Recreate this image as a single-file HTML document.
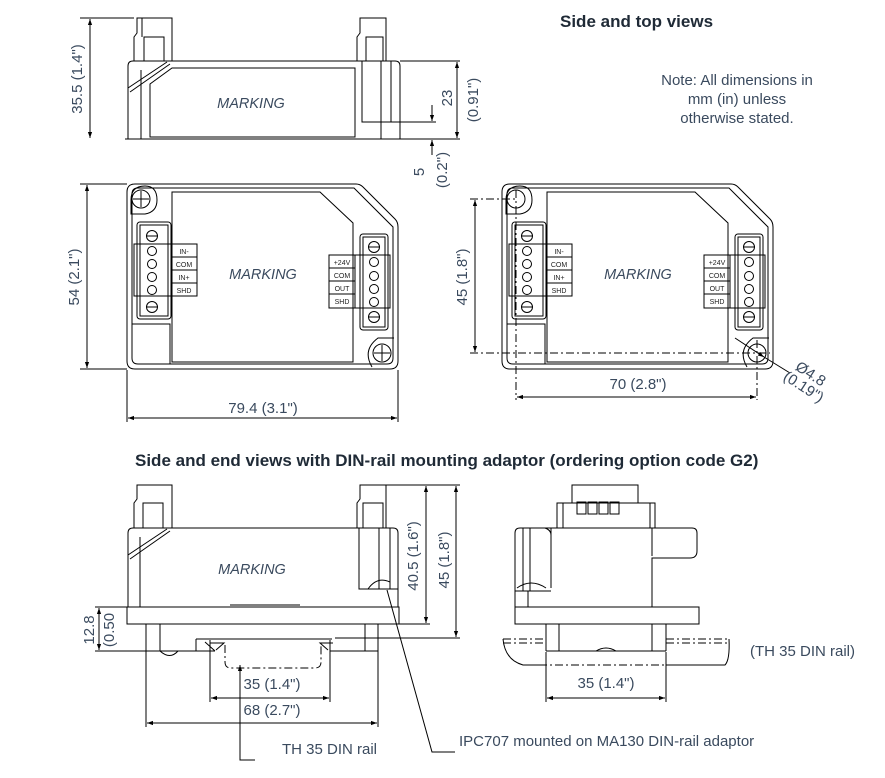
<!DOCTYPE html>
<html><head><style>
html,body{margin:0;padding:0;background:#fff;}
svg{display:block;}
text{font-family:"Liberation Sans",sans-serif;fill:#3a4a5e;}
.t{font-size:15px;}
.s{font-size:7px;fill:#222;}
.m{font-size:14.5px;font-style:italic;}
.b{font-size:17px;font-weight:bold;fill:#1f2a36;}
</style></head><body>
<svg width="885" height="778" viewBox="0 0 885 778" xmlns="http://www.w3.org/2000/svg">
<defs>
<marker id="a" viewBox="0 0 10 10" refX="10" refY="5" markerWidth="8" markerHeight="6" orient="auto-start-reverse"><path d="M0,1.5 L10,5 L0,8.5 z" fill="#000"/></marker>
</defs>
<g fill="none" stroke="#000" stroke-width="1">

<path d="M128,139 L128,66 Q128,61 133,61 L395,61 Q400,61 400,66 L400,139"/>
<line x1="141" y1="70" x2="141" y2="139"/>
<line x1="128" y1="88" x2="167" y2="62"/><line x1="130" y1="92" x2="170" y2="64"/>
<path d="M150,137 L150,84 L172,68 L355,68 L355,137 Z"/>
<path d="M134,61 L134,37 L137,33 L137,18 L172,18 L172,61"/>
<rect x="144" y="37" width="20" height="24"/>
<line x1="142" y1="18" x2="142" y2="37"/>
<path d="M357,61 L357,37 L360,33 L360,18 L386,18 L386,61"/>
<rect x="366" y="37" width="17" height="24"/>
<path d="M362,61 L362,122 L400,122"/><line x1="381" y1="61" x2="381" y2="139"/><line x1="391" y1="61" x2="391" y2="122"/>
<line x1="125" y1="139" x2="460" y2="139"/>
<line x1="80" y1="18" x2="134" y2="18"/>
<line x1="90" y1="19" x2="90" y2="138" marker-start="url(#a)" marker-end="url(#a)"/>
<line x1="400" y1="61" x2="460" y2="61"/>
<line x1="457" y1="62" x2="457" y2="138" marker-start="url(#a)" marker-end="url(#a)"/>
<line x1="400" y1="122" x2="436" y2="122"/>
<line x1="432" y1="105" x2="432" y2="121" marker-end="url(#a)"/>
<line x1="432" y1="155" x2="432" y2="140" marker-end="url(#a)"/>

<g>
<path d="M135,184 L356,184 Q360,184 363,187 L395,219 Q398,222 398,227 L398,361 Q398,369 390,369 L135,369 Q127,369 127,361 L127,192 Q127,184 135,184 Z"/>
<path d="M138,188 L354,188 L393,227 L393,358 Q393,364 387,364 L138,364 Q132,364 132,358 L132,194 Q132,188 138,188 Z"/>
<path d="M172,192 L320,192 L353,223 L353,362 L172,362 Z"/>
<path d="M131,214 L131,200 Q131,186 145,186 Q157,186 157,200 Q157,212 145,214 Z"/>
<circle cx="141" cy="199" r="9"/><line x1="133" y1="199" x2="149" y2="199"/><line x1="141" y1="191" x2="141" y2="207"/>
<path d="M372,367 Q362,350 378,338 L394,338"/>
<circle cx="382" cy="353" r="9"/><line x1="374" y1="353" x2="390" y2="353"/><line x1="382" y1="345" x2="382" y2="361"/>
<path d="M132,324 L170,324 L170,364"/>
<rect x="137" y="222" width="34" height="97" rx="3"/>
<rect x="140" y="225" width="28" height="91"/>
<rect x="134" y="244" width="38" height="52"/>
<circle cx="152" cy="236" r="5.5"/><line x1="147" y1="236" x2="157" y2="236"/>
<circle cx="152" cy="307" r="5.5"/><line x1="147" y1="307" x2="157" y2="307"/>
<circle cx="152" cy="251" r="4.5"/><circle cx="152" cy="264" r="4.5"/><circle cx="152" cy="277" r="4.5"/><circle cx="152" cy="290" r="4.5"/>
<rect x="172" y="244" width="25" height="13"/><rect x="172" y="257" width="25" height="13"/><rect x="172" y="270" width="25" height="13"/><rect x="172" y="283" width="25" height="13"/>
<rect x="360" y="234" width="28" height="96" rx="3"/>
<rect x="363" y="237" width="22" height="90"/>
<rect x="355" y="255" width="35" height="53"/>
<circle cx="374" cy="247" r="5.5"/><line x1="369" y1="247" x2="379" y2="247"/>
<circle cx="374" cy="317" r="5.5"/><line x1="369" y1="317" x2="379" y2="317"/>
<circle cx="374" cy="262" r="4.5"/><circle cx="374" cy="276" r="4.5"/><circle cx="374" cy="289" r="4.5"/><circle cx="374" cy="302" r="4.5"/>
<rect x="329" y="255" width="26" height="13"/><rect x="329" y="268" width="26" height="13"/><rect x="329" y="281" width="26" height="13"/><rect x="329" y="294" width="26" height="14"/>
</g>
<g transform="translate(375,0)">
<path d="M135,184 L356,184 Q360,184 363,187 L395,219 Q398,222 398,227 L398,361 Q398,369 390,369 L135,369 Q127,369 127,361 L127,192 Q127,184 135,184 Z"/>
<path d="M138,188 L354,188 L393,227 L393,358 Q393,364 387,364 L138,364 Q132,364 132,358 L132,194 Q132,188 138,188 Z"/>
<path d="M172,192 L320,192 L353,223 L353,362 L172,362 Z"/>
<path d="M131,214 L131,200 Q131,186 145,186 Q157,186 157,200 Q157,212 145,214 Z"/>
<circle cx="141" cy="199" r="9"/>
<path d="M372,367 Q362,350 378,338 L394,338"/>
<circle cx="382" cy="353" r="9"/>
<path d="M132,324 L170,324 L170,364"/>
<rect x="137" y="222" width="34" height="97" rx="3"/>
<rect x="140" y="225" width="28" height="91"/>
<rect x="134" y="244" width="38" height="52"/>
<circle cx="152" cy="236" r="5.5"/><line x1="147" y1="236" x2="157" y2="236"/>
<circle cx="152" cy="307" r="5.5"/><line x1="147" y1="307" x2="157" y2="307"/>
<circle cx="152" cy="251" r="4.5"/><circle cx="152" cy="264" r="4.5"/><circle cx="152" cy="277" r="4.5"/><circle cx="152" cy="290" r="4.5"/>
<rect x="172" y="244" width="25" height="13"/><rect x="172" y="257" width="25" height="13"/><rect x="172" y="270" width="25" height="13"/><rect x="172" y="283" width="25" height="13"/>
<rect x="360" y="234" width="28" height="96" rx="3"/>
<rect x="363" y="237" width="22" height="90"/>
<rect x="355" y="255" width="35" height="53"/>
<circle cx="374" cy="247" r="5.5"/><line x1="369" y1="247" x2="379" y2="247"/>
<circle cx="374" cy="317" r="5.5"/><line x1="369" y1="317" x2="379" y2="317"/>
<circle cx="374" cy="262" r="4.5"/><circle cx="374" cy="276" r="4.5"/><circle cx="374" cy="289" r="4.5"/><circle cx="374" cy="302" r="4.5"/>
<rect x="329" y="255" width="26" height="13"/><rect x="329" y="268" width="26" height="13"/><rect x="329" y="281" width="26" height="13"/><rect x="329" y="294" width="26" height="14"/>
</g>
<line x1="80" y1="184" x2="127" y2="184"/><line x1="80" y1="369" x2="127" y2="369"/>
<line x1="87" y1="185" x2="87" y2="368" marker-start="url(#a)" marker-end="url(#a)"/>
<line x1="127" y1="370" x2="127" y2="422"/><line x1="398" y1="370" x2="398" y2="422"/>
<line x1="128" y1="418" x2="397" y2="418" marker-start="url(#a)" marker-end="url(#a)"/>
<g stroke-dasharray="8,3,2,3"><line x1="470" y1="199" x2="516" y2="199"/><line x1="470" y1="353" x2="770" y2="353"/><line x1="516" y1="190" x2="516" y2="400"/><line x1="757" y1="340" x2="757" y2="400"/></g>
<line x1="475" y1="200" x2="475" y2="352" marker-start="url(#a)" marker-end="url(#a)"/>
<line x1="517" y1="397" x2="756" y2="397" marker-start="url(#a)" marker-end="url(#a)"/>
<line x1="735" y1="338" x2="764" y2="357" marker-end="url(#a)"/><line x1="764" y1="357" x2="790" y2="373"/>

<path d="M128,607 L128,533 Q128,528 133,528 L393,528 Q398,528 398,533 L398,607"/>
<line x1="140" y1="537" x2="140" y2="607"/>
<line x1="128" y1="555" x2="167" y2="529"/><line x1="130" y1="559" x2="170" y2="531"/>
<path d="M134,528 L134,503 L137,499 L137,485 L172,485 L172,528"/>
<rect x="143" y="503" width="20" height="25"/>
<path d="M357,528 L357,503 L360,499 L360,485 L386,485 L386,528"/>
<rect x="363" y="503" width="20" height="25"/>
<path d="M359,528 L359,589 L398,589"/><line x1="379" y1="528" x2="379" y2="589"/><line x1="390" y1="528" x2="390" y2="589"/>
<path d="M368,589 Q377,576 390,582"/>
<line x1="230" y1="605" x2="300" y2="605"/>
<rect x="127" y="607" width="272" height="17"/>
<line x1="146" y1="624" x2="146" y2="651"/><line x1="160" y1="624" x2="160" y2="651"/>
<line x1="365" y1="624" x2="365" y2="651"/><line x1="378" y1="624" x2="378" y2="651"/>
<line x1="196" y1="639" x2="332" y2="639"/>
<line x1="95" y1="651" x2="215" y2="651"/><line x1="330" y1="651" x2="378" y2="651"/>
<path d="M196,639 L196,651"/><path d="M205,642 L215,651"/>
<path d="M160,651 Q170,660 178,651"/>
<path d="M210,643 L224,643 L216,650"/><path d="M333,643 L320,643 L328,650"/>
<path d="M225,645 L225,662 Q225,668 231,668 L315,668 Q321,668 321,662 L321,645" stroke-dasharray="8,3,2,3"/>
<line x1="95" y1="607" x2="127" y2="607"/>
<line x1="99" y1="608" x2="99" y2="650" marker-start="url(#a)" marker-end="url(#a)"/>
<line x1="386" y1="485" x2="460" y2="485"/><line x1="399" y1="624" x2="430" y2="624"/><line x1="335" y1="638" x2="460" y2="638"/>
<line x1="426" y1="486" x2="426" y2="623" marker-start="url(#a)" marker-end="url(#a)"/>
<line x1="456" y1="486" x2="456" y2="637" marker-start="url(#a)" marker-end="url(#a)"/>
<line x1="210" y1="640" x2="210" y2="702"/><line x1="330" y1="640" x2="330" y2="702"/>
<line x1="211" y1="698" x2="329" y2="698" marker-start="url(#a)" marker-end="url(#a)"/>
<line x1="146" y1="651" x2="146" y2="727"/><line x1="378" y1="651" x2="378" y2="727"/>
<line x1="147" y1="723" x2="377" y2="723" marker-start="url(#a)" marker-end="url(#a)"/>
<polyline points="255,760 240,760 240,665" marker-end="url(#a)"/>
<polyline points="455,752 432,752 387,590"/>

<path d="M572,503 L572,485 L638,485 L638,503"/>
<rect x="557" y="503" width="98" height="25"/>
<line x1="563" y1="503" x2="563" y2="528"/><line x1="650" y1="503" x2="650" y2="528"/>
<rect x="577" y="502" width="9" height="12"/><rect x="588" y="502" width="9" height="12"/><rect x="599" y="502" width="9" height="12"/><rect x="610" y="502" width="9" height="12"/>
<path d="M515,607 L515,533 Q515,528 520,528 L692,528 Q697,528 697,533 L697,551 Q697,558 690,558 L652,558 L652,607"/>
<line x1="523" y1="528" x2="523" y2="591"/><line x1="530" y1="528" x2="530" y2="591"/><line x1="551" y1="528" x2="551" y2="588"/>
<path d="M545,528 Q551,530 551,535"/>
<path d="M652,528 L652,556"/><path d="M515,591 L551,591"/><path d="M517,588 Q531,578 546,588"/>
<line x1="528" y1="591" x2="528" y2="607"/>
<rect x="515" y="607" width="184" height="17"/>
<line x1="546" y1="624" x2="546" y2="651"/><line x1="559" y1="624" x2="559" y2="651"/>
<line x1="652" y1="624" x2="652" y2="651"/><line x1="666" y1="624" x2="666" y2="651"/>
<line x1="546" y1="651" x2="666" y2="651"/>
<path d="M596,651 Q606,645 616,651"/>
<path d="M503,639 Q505,660 523,665 L546,665"/><path d="M666,665 L725,665 Q730,660 729,639"/>
<g stroke-dasharray="8,3,2,3"><line x1="503" y1="639" x2="546" y2="639"/><line x1="666" y1="639" x2="729" y2="639"/><line x1="503" y1="643" x2="546" y2="643"/><line x1="666" y1="643" x2="729" y2="643"/><line x1="523" y1="665" x2="725" y2="665"/></g>
<line x1="546" y1="652" x2="546" y2="702"/><line x1="666" y1="652" x2="666" y2="702"/>
<line x1="547" y1="698" x2="665" y2="698" marker-start="url(#a)" marker-end="url(#a)"/>
</g>

<text x="560" y="27" class="b">Side and top views</text>
<text x="737" y="85" class="t" text-anchor="middle">Note: All dimensions in</text>
<text x="737" y="104" class="t" text-anchor="middle">mm (in) unless</text>
<text x="737" y="123" class="t" text-anchor="middle">otherwise stated.</text>
<text x="251" y="108" class="m" text-anchor="middle">MARKING</text>
<text class="t" transform="translate(82,79) rotate(-90)" text-anchor="middle">35.5 (1.4")</text>
<text class="t" transform="translate(452,98) rotate(-90)" text-anchor="middle">23</text>
<text class="t" transform="translate(478,100) rotate(-90)" text-anchor="middle">(0.91")</text>
<text class="t" transform="translate(424,172) rotate(-90)" text-anchor="middle">5</text>
<text class="t" transform="translate(447,170) rotate(-90)" text-anchor="middle">(0.2")</text>

<text x="263" y="279" class="m" text-anchor="middle">MARKING</text>
<text x="638" y="279" class="m" text-anchor="middle">MARKING</text>
<text x="184" y="254" class="s" text-anchor="middle">IN-</text><text x="184" y="267" class="s" text-anchor="middle">COM</text><text x="184" y="280" class="s" text-anchor="middle">IN+</text><text x="184" y="293" class="s" text-anchor="middle">SHD</text>
<text x="342" y="265" class="s" text-anchor="middle">+24V</text><text x="342" y="278" class="s" text-anchor="middle">COM</text><text x="342" y="291" class="s" text-anchor="middle">OUT</text><text x="342" y="304" class="s" text-anchor="middle">SHD</text>
<text x="559" y="254" class="s" text-anchor="middle">IN-</text><text x="559" y="267" class="s" text-anchor="middle">COM</text><text x="559" y="280" class="s" text-anchor="middle">IN+</text><text x="559" y="293" class="s" text-anchor="middle">SHD</text>
<text x="717" y="265" class="s" text-anchor="middle">+24V</text><text x="717" y="278" class="s" text-anchor="middle">COM</text><text x="717" y="291" class="s" text-anchor="middle">OUT</text><text x="717" y="304" class="s" text-anchor="middle">SHD</text>
<text class="t" transform="translate(79,277) rotate(-90)" text-anchor="middle">54 (2.1")</text>
<text x="263" y="413" class="t" text-anchor="middle">79.4 (3.1")</text>
<text class="t" transform="translate(467,277) rotate(-90)" text-anchor="middle">45 (1.8")</text>
<text x="638" y="389" class="t" text-anchor="middle">70 (2.8")</text>
<text class="t" transform="translate(808,378) rotate(33)" text-anchor="middle">Ø4.8</text>
<text class="t" transform="translate(801,391) rotate(33)" text-anchor="middle">(0.19")</text>

<text x="135" y="466" class="b">Side and end views with DIN-rail mounting adaptor (ordering option code G2)</text>
<text x="252" y="574" class="m" text-anchor="middle">MARKING</text>
<text class="t" transform="translate(94,630) rotate(-90)" text-anchor="middle">12.8</text>
<text class="t" transform="translate(114,630) rotate(-90)" text-anchor="middle">(0.50</text>
<text class="t" transform="translate(418,556) rotate(-90)" text-anchor="middle">40.5 (1.6")</text>
<text class="t" transform="translate(449,560) rotate(-90)" text-anchor="middle">45 (1.8")</text>
<text x="272" y="689" class="t" text-anchor="middle">35 (1.4")</text>
<text x="272" y="715" class="t" text-anchor="middle">68 (2.7")</text>
<text x="282" y="754" class="t">TH 35 DIN rail</text>
<text x="459" y="746" class="t">IPC707 mounted on MA130 DIN-rail adaptor</text>
<text x="606" y="688" class="t" text-anchor="middle">35 (1.4")</text>
<text x="750" y="656" class="t">(TH 35 DIN rail)</text>
</svg>
</body></html>
